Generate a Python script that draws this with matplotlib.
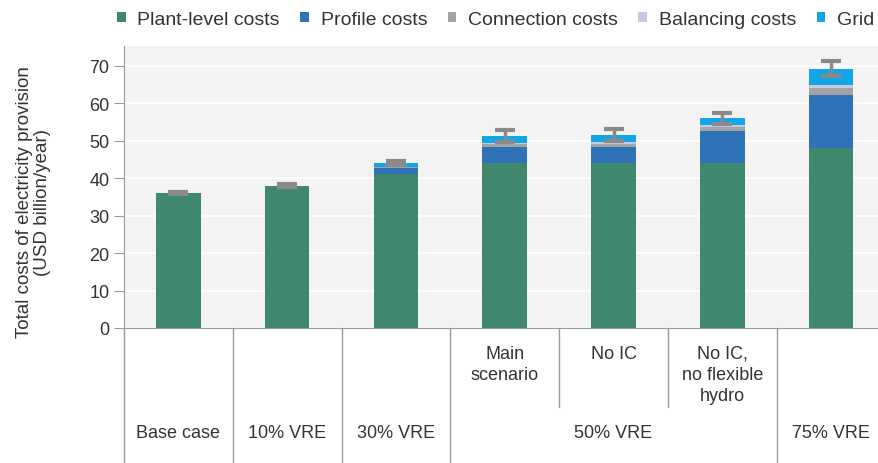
import numpy as np
import matplotlib.pyplot as plt
from matplotlib.patches import Patch

plt.rcParams['font.family'] = ['Liberation Sans', 'DejaVu Sans']

# values (USD billion/year)
scenarios = ["Base case", "10% VRE", "30% VRE", "Main\nscenario", "No IC",
             "No IC,\nno flexible\nhydro", "75% VRE"]
plant = [36.0, 38.0, 41.0, 44.0, 44.0, 44.0, 48.0]
profile = [0.0, 0.0, 1.6, 4.3, 4.4, 8.6, 14.2]
connection = [0.0, 0.0, 0.3, 0.8, 0.8, 1.0, 1.8]
balancing = [0.0, 0.0, 0.2, 0.4, 0.4, 0.5, 0.8]
grid = [0.0, 0.0, 0.9, 1.8, 1.9, 1.9, 4.4]
err = [0.3, 0.4, 0.6, 1.6, 1.6, 1.5, 2.0]

series = [("Plant-level costs", plant, "#3f876d"),
          ("Profile costs", profile, "#2e72b8"),
          ("Connection costs", connection, "#a3a3a3"),
          ("Balancing costs", balancing, "#c4cae2"),
          ("Grid costs", grid, "#12a6e6")]

fig = plt.figure(figsize=(8.79, 4.64), dpi=100)
ax = fig.add_axes([0.141, 0.291, 0.859, 0.608])
ax.set_facecolor("#f3f3f3")

x = np.arange(len(scenarios))
bottom = np.zeros(len(x))
for name, vals, col in series:
    ax.bar(x, vals, 0.41, bottom=bottom, color=col, label=name, zorder=3)
    bottom += np.array(vals)

ax.errorbar(x, bottom, yerr=err, fmt="none", ecolor="#8a8a8a",
            elinewidth=2.5, capsize=7, capthick=3, zorder=4)

ax.set_xlim(-0.5, 6.44)
ax.set_ylim(0, 75.3)
ax.set_yticks(range(0, 80, 10))
ax.yaxis.grid(True, color="white", lw=1.2, zorder=0)
ax.set_xticks([])
for s in ["top", "right"]:
    ax.spines[s].set_visible(False)
for s in ["left", "bottom"]:
    ax.spines[s].set_color("#9a9a9a")
ax.tick_params(axis="y", colors="#9a9a9a", labelcolor="#333333",
               labelsize=13, length=7, pad=3.5)
ax.set_ylabel("Total costs of electricity provision\n(USD billion/year)",
              fontsize=13.5, color="#333333", linespacing=1.15)
ax.yaxis.set_label_coords(-0.096, 0.45)

# category table below the axis
tr = ax.get_xaxis_transform()
for xv, y1 in [(-0.5, -0.48), (0.5, -0.48), (1.5, -0.48), (2.5, -0.48),
               (3.5, -0.28), (4.5, -0.28), (5.5, -0.48)]:
    ax.plot([xv, xv], [0, y1], transform=tr, color="#9a9a9a", lw=1,
            clip_on=False)
for i, lab in enumerate(scenarios):
    if i in (3, 4, 5):
        ax.text(i, -0.06, lab, transform=tr, ha="center", va="top",
                fontsize=13, color="#333333", linespacing=1.3)
    else:
        ax.text(i, -0.372, lab, transform=tr, ha="center", va="center",
                fontsize=13, color="#333333")
ax.text(4, -0.372, "50% VRE", transform=tr, ha="center", va="center",
        fontsize=13, color="#333333")

handles = [Patch(facecolor=c, label=n) for n, _, c in series]
fig.legend(handles=handles, loc="upper left", bbox_to_anchor=(0.113, 1.012),
           ncol=5, frameon=False, fontsize=14, handlelength=0.45,
           handleheight=0.45, handletextpad=0.6, columnspacing=1.05,
           labelcolor="#333333")

fig.savefig("out.png", dpi=100)
